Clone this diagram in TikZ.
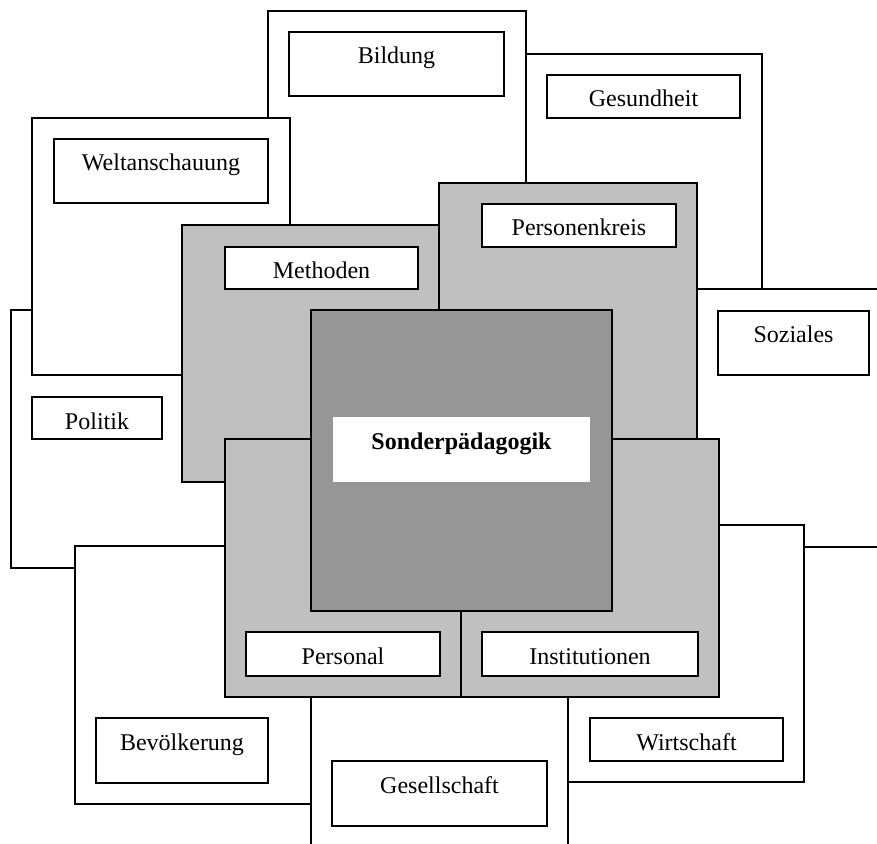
\documentclass[tikz,border=0pt]{standalone}
\usepackage{fontspec}
\setmainfont{Liberation Serif}
\definecolor{lightgr}{RGB}{192,192,192}
\definecolor{darkgr}{RGB}{150,150,150}
\tikzset{
  outer/.style={draw=black, fill=white, line width=1pt},
  graybox/.style={draw=black, fill=lightgr, line width=1pt},
  darkbox/.style={draw=black, fill=darkgr, line width=1pt},
  lblbox/.style={draw=black, fill=white, line width=1pt},
  txt/.style={anchor=base, inner sep=0pt, font=\fontsize{12}{14}\selectfont}
}
\begin{document}
\begin{tikzpicture}[x=0.5pt, y=-0.5pt]
\clip (0,0) rectangle (877,844);
\fill[white] (0,0) rectangle (877,844);
% outer white boxes
\path[outer] (526,54) rectangle (762,350);   % Gesundheit
\path[outer] (268,11) rectangle (526,300);   % Bildung
\path[outer] (650,289) rectangle (900,547);  % Soziales
\path[outer] (568,525) rectangle (804,782);  % Wirtschaft
\path[outer] (11,310) rectangle (240,568);   % Politik
\path[outer] (32,118) rectangle (290,375);   % Weltanschauung
\path[outer] (75,546) rectangle (311,804);   % Bevoelkerung
\path[outer] (311,650) rectangle (568,870);  % Gesellschaft
% gray boxes
\path[graybox] (182,225) rectangle (439,482); % Methoden
\path[graybox] (439,183) rectangle (697,439); % Personenkreis
\path[graybox] (225,439) rectangle (461,697); % Personal
\path[graybox] (461,439) rectangle (719,697); % Institutionen
\path[darkbox] (311,310) rectangle (612,611); % Sonderpaedagogik
\fill[white] (333,417) rectangle (590,482);
\node[txt, font=\fontsize{12}{14}\selectfont\bfseries] (sonder) at (461.5,449) {Sonderpädagogik};
% label boxes
\path[lblbox] (289,32) rectangle (504,96);
\node[txt] (bildung) at (396.5,64) {Bildung};
\path[lblbox] (547,75) rectangle (740,118);
\node[txt] (gesundheit) at (643.5,107) {Gesundheit};
\path[lblbox] (54,139) rectangle (268,203);
\node[txt] (welt) at (161,171) {Weltanschauung};
\path[lblbox] (225,247) rectangle (418,289);
\node[txt] (methoden) at (321.5,279) {Methoden};
\path[lblbox] (482,204) rectangle (676,247);
\node[txt] (personenkreis) at (579,236) {Personenkreis};
\path[lblbox] (718,311) rectangle (869,375);
\node[txt] (soziales) at (793.5,343) {Soziales};
\path[lblbox] (32,397) rectangle (162,439);
\node[txt] (politik) at (97,429) {Politik};
\path[lblbox] (246,632) rectangle (440,676);
\node[txt] (personal) at (343,664) {Personal};
\path[lblbox] (482,632) rectangle (698,676);
\node[txt] (institutionen) at (590,664) {Institutionen};
\path[lblbox] (96,718) rectangle (268,783);
\node[txt] (bevoelkerung) at (182,750) {Bevölkerung};
\path[lblbox] (332,761) rectangle (547,826);
\node[txt] (gesellschaft) at (439.5,793) {Gesellschaft};
\path[lblbox] (590,718) rectangle (783,761);
\node[txt] (wirtschaft) at (686.5,750) {Wirtschaft};
\end{tikzpicture}
\end{document}
